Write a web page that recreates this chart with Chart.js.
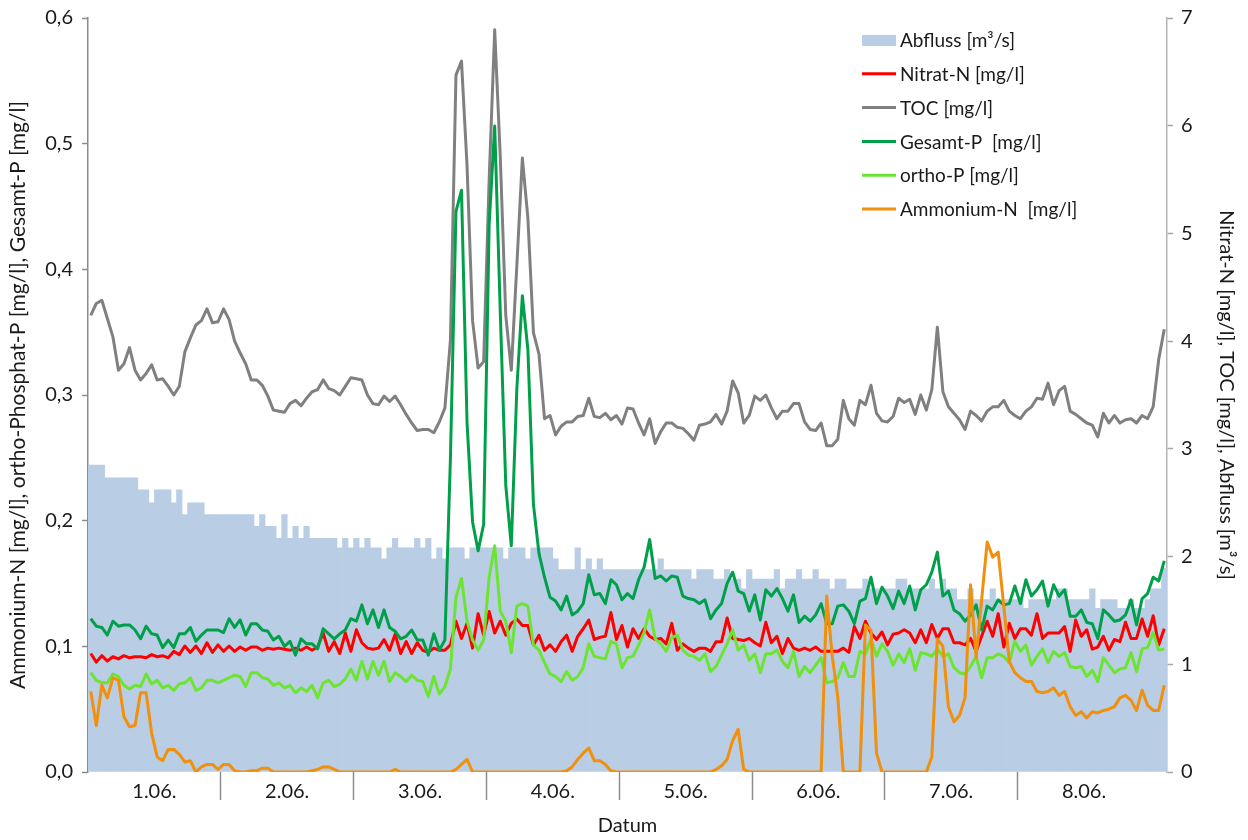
<!DOCTYPE html>
<html>
<head>
<meta charset="utf-8">
<title>Abfluss und Nährstoffe</title>
<script src="https://cdn.jsdelivr.net/npm/chart.js@4.4.1/dist/chart.umd.min.js"></script>
<style>
  html, body { margin: 0; padding: 0; background: #fff; }
  #wrap { width: 1248px; height: 840px; position: relative; }
</style>
</head>
<body>
<div id="wrap"><canvas id="chart"></canvas></div>
<script>
// Tage der Messkampagne, Stundenwerte (24 je Tag)
const days = ['1.06.', '2.06.', '3.06.', '4.06.', '5.06.', '6.06.', '7.06.', '8.06.', '9.06.'];
const hoursPerDay = 24;

// Abfluss [m3/s] (rechte Achse)
const abfluss = [
  2.85, 2.85, 2.85, 2.73, 2.73, 2.73, 2.73, 2.73, 2.73, 2.62, 2.62, 2.50, 2.62, 2.62, 2.62, 2.50, 2.62, 2.39, 2.50, 2.50, 2.50, 2.39, 2.39, 2.39,
  2.39, 2.39, 2.39, 2.39, 2.39, 2.39, 2.28, 2.39, 2.28, 2.28, 2.17, 2.39, 2.17, 2.28, 2.17, 2.28, 2.17, 2.17, 2.17, 2.17, 2.17, 2.08, 2.17, 2.08,
  2.17, 2.08, 2.17, 2.08, 2.08, 1.98, 2.08, 2.17, 2.08, 2.08, 2.08, 2.17, 2.08, 2.17, 1.98, 2.08, 1.98, 2.08, 2.08, 2.08, 1.98, 2.08, 2.08, 2.08,
  2.08, 2.08, 2.08, 1.98, 2.08, 2.08, 2.08, 1.98, 2.08, 2.08, 2.08, 2.08, 1.98, 1.88, 1.88, 1.88, 2.08, 1.88, 1.98, 1.88, 1.98, 1.88, 1.88, 1.88,
  1.88, 1.88, 1.88, 1.88, 1.88, 1.88, 1.88, 1.98, 1.88, 1.88, 1.88, 1.88, 1.88, 1.79, 1.88, 1.88, 1.88, 1.79, 1.79, 1.88, 1.79, 1.79, 1.70, 1.88,
  1.79, 1.79, 1.79, 1.79, 1.88, 1.70, 1.79, 1.79, 1.88, 1.79, 1.79, 1.88, 1.79, 1.79, 1.70, 1.79, 1.79, 1.70, 1.70, 1.70, 1.79, 1.70, 1.70, 1.70,
  1.70, 1.70, 1.79, 1.79, 1.70, 1.70, 1.70, 1.70, 1.79, 1.70, 1.79, 1.70, 1.70, 1.60, 1.60, 1.70, 1.60, 1.60, 1.60, 1.70, 1.60, 1.60, 1.60, 1.60,
  1.60, 1.52, 1.60, 1.60, 1.60, 1.60, 1.60, 1.70, 1.70, 1.60, 1.60, 1.60, 1.60, 1.70, 1.52, 1.60, 1.60, 1.60, 1.52, 1.52, 1.60, 1.52, 1.52, 1.60,
  1.70, 1.70, 1.89
];

// Nitrat-N [mg/l] (rechte Achse)
const nitratN = [
  1.10, 1.02, 1.08, 1.03, 1.07, 1.05, 1.08, 1.06, 1.07, 1.07, 1.06, 1.09, 1.07, 1.08, 1.06, 1.12, 1.09, 1.17, 1.11, 1.17, 1.10, 1.20, 1.11, 1.18,
  1.12, 1.17, 1.12, 1.16, 1.13, 1.16, 1.16, 1.13, 1.15, 1.14, 1.15, 1.14, 1.13, 1.15, 1.13, 1.16, 1.13, 1.16, 1.29, 1.12, 1.21, 1.10, 1.29, 1.12,
  1.32, 1.20, 1.15, 1.14, 1.15, 1.23, 1.13, 1.28, 1.10, 1.21, 1.10, 1.20, 1.13, 1.11, 1.15, 1.13, 1.13, 1.18, 1.40, 1.24, 1.38, 1.15, 1.47, 1.27,
  1.49, 1.29, 1.40, 1.27, 1.38, 1.42, 1.36, 1.36, 1.18, 1.27, 1.13, 1.18, 1.12, 1.21, 1.27, 1.12, 1.26, 1.33, 1.41, 1.23, 1.25, 1.26, 1.48, 1.23,
  1.36, 1.16, 1.33, 1.24, 1.33, 1.26, 1.23, 1.24, 1.19, 1.38, 1.13, 1.19, 1.15, 1.12, 1.15, 1.15, 1.12, 1.21, 1.21, 1.43, 1.24, 1.23, 1.22, 1.24,
  1.20, 1.17, 1.39, 1.20, 1.26, 1.10, 1.24, 1.15, 1.13, 1.15, 1.13, 1.16, 1.12, 1.12, 1.12, 1.12, 1.15, 1.11, 1.35, 1.24, 1.40, 1.29, 1.23, 1.30,
  1.18, 1.28, 1.29, 1.32, 1.29, 1.20, 1.32, 1.20, 1.37, 1.24, 1.33, 1.33, 1.20, 1.20, 1.18, 1.24, 1.12, 1.26, 1.40, 1.26, 1.47, 1.16, 1.38, 1.24,
  1.33, 1.33, 1.27, 1.47, 1.24, 1.29, 1.29, 1.29, 1.35, 1.12, 1.41, 1.26, 1.32, 1.14, 1.16, 1.26, 1.13, 1.23, 1.21, 1.39, 1.24, 1.24, 1.42, 1.26,
  1.45, 1.18, 1.33
];

// TOC [mg/l] (rechte Achse)
const toc = [
  4.24, 4.35, 4.38, 4.21, 4.04, 3.73, 3.79, 3.94, 3.73, 3.64, 3.70, 3.78, 3.64, 3.65, 3.58, 3.50, 3.58, 3.90, 4.03, 4.15, 4.19, 4.30, 4.17, 4.18,
  4.30, 4.20, 4.00, 3.89, 3.79, 3.64, 3.64, 3.59, 3.49, 3.36, 3.35, 3.34, 3.42, 3.45, 3.40, 3.47, 3.53, 3.55, 3.64, 3.56, 3.54, 3.50, 3.58, 3.66,
  3.65, 3.64, 3.50, 3.42, 3.41, 3.49, 3.44, 3.49, 3.41, 3.32, 3.24, 3.17, 3.18, 3.18, 3.15, 3.25, 3.38, 4.01, 6.47, 6.60, 5.63, 4.19, 3.75, 3.81,
  5.50, 6.89, 5.72, 4.24, 3.73, 4.70, 5.70, 5.14, 4.08, 3.88, 3.28, 3.31, 3.13, 3.21, 3.25, 3.25, 3.30, 3.31, 3.47, 3.30, 3.29, 3.33, 3.27, 3.31,
  3.23, 3.38, 3.37, 3.24, 3.13, 3.28, 3.05, 3.16, 3.24, 3.24, 3.20, 3.19, 3.14, 3.08, 3.22, 3.23, 3.25, 3.32, 3.23, 3.35, 3.63, 3.52, 3.24, 3.31,
  3.49, 3.45, 3.50, 3.38, 3.28, 3.35, 3.35, 3.42, 3.42, 3.25, 3.18, 3.17, 3.24, 3.03, 3.03, 3.09, 3.45, 3.28, 3.22, 3.45, 3.41, 3.59, 3.33, 3.26,
  3.25, 3.30, 3.47, 3.43, 3.46, 3.32, 3.50, 3.36, 3.55, 4.13, 3.53, 3.39, 3.33, 3.27, 3.18, 3.35, 3.31, 3.26, 3.35, 3.39, 3.39, 3.45, 3.35, 3.31,
  3.28, 3.35, 3.39, 3.47, 3.46, 3.61, 3.41, 3.54, 3.58, 3.35, 3.32, 3.28, 3.24, 3.22, 3.11, 3.33, 3.24, 3.31, 3.24, 3.27, 3.28, 3.24, 3.31, 3.28,
  3.39, 3.83, 4.11
];

// Gesamt-P [mg/l] (linke Achse)
const gesamtP = [
  0.122, 0.116, 0.115, 0.109, 0.120, 0.116, 0.117, 0.117, 0.113, 0.106, 0.116, 0.110, 0.109, 0.099, 0.105, 0.099, 0.110, 0.110, 0.115, 0.104, 0.109, 0.113, 0.113, 0.113,
  0.111, 0.122, 0.115, 0.121, 0.109, 0.118, 0.118, 0.113, 0.112, 0.105, 0.108, 0.100, 0.104, 0.093, 0.106, 0.102, 0.102, 0.098, 0.114, 0.110, 0.106, 0.110, 0.113, 0.122,
  0.120, 0.133, 0.118, 0.129, 0.115, 0.129, 0.115, 0.112, 0.106, 0.108, 0.113, 0.105, 0.105, 0.093, 0.110, 0.097, 0.105, 0.250, 0.446, 0.463, 0.278, 0.199, 0.176, 0.197,
  0.436, 0.514, 0.367, 0.228, 0.180, 0.305, 0.379, 0.336, 0.213, 0.174, 0.155, 0.139, 0.136, 0.129, 0.140, 0.125, 0.128, 0.134, 0.157, 0.141, 0.142, 0.134, 0.153, 0.149,
  0.137, 0.142, 0.138, 0.153, 0.163, 0.185, 0.154, 0.156, 0.152, 0.156, 0.155, 0.140, 0.138, 0.137, 0.134, 0.137, 0.122, 0.129, 0.134, 0.150, 0.159, 0.144, 0.142, 0.128,
  0.141, 0.121, 0.145, 0.140, 0.146, 0.138, 0.128, 0.141, 0.119, 0.124, 0.120, 0.125, 0.134, 0.118, 0.118, 0.132, 0.133, 0.128, 0.118, 0.136, 0.138, 0.155, 0.134, 0.147,
  0.140, 0.130, 0.144, 0.134, 0.148, 0.129, 0.145, 0.149, 0.159, 0.175, 0.140, 0.144, 0.129, 0.126, 0.120, 0.125, 0.133, 0.113, 0.132, 0.129, 0.137, 0.133, 0.134, 0.148,
  0.134, 0.153, 0.140, 0.145, 0.152, 0.132, 0.149, 0.140, 0.145, 0.124, 0.124, 0.129, 0.119, 0.118, 0.106, 0.129, 0.125, 0.120, 0.121, 0.125, 0.137, 0.117, 0.138, 0.142,
  0.155, 0.152, 0.168
];

// ortho-P [mg/l] (linke Achse)
const orthoP = [
  0.079, 0.073, 0.071, 0.071, 0.078, 0.076, 0.069, 0.066, 0.069, 0.068, 0.078, 0.070, 0.073, 0.067, 0.069, 0.065, 0.070, 0.071, 0.075, 0.065, 0.067, 0.073, 0.073, 0.071,
  0.073, 0.075, 0.077, 0.076, 0.068, 0.079, 0.079, 0.075, 0.074, 0.069, 0.071, 0.067, 0.069, 0.063, 0.067, 0.064, 0.069, 0.059, 0.071, 0.073, 0.068, 0.070, 0.074, 0.082,
  0.073, 0.088, 0.074, 0.088, 0.077, 0.088, 0.072, 0.079, 0.076, 0.072, 0.077, 0.073, 0.072, 0.060, 0.076, 0.062, 0.068, 0.082, 0.139, 0.154, 0.120, 0.105, 0.097, 0.105,
  0.155, 0.180, 0.128, 0.120, 0.095, 0.132, 0.134, 0.132, 0.101, 0.097, 0.087, 0.078, 0.076, 0.072, 0.080, 0.073, 0.076, 0.083, 0.102, 0.092, 0.091, 0.090, 0.104, 0.102,
  0.083, 0.091, 0.092, 0.101, 0.111, 0.129, 0.106, 0.102, 0.096, 0.107, 0.109, 0.097, 0.093, 0.092, 0.089, 0.094, 0.080, 0.084, 0.093, 0.102, 0.113, 0.097, 0.101, 0.089,
  0.094, 0.079, 0.094, 0.094, 0.097, 0.088, 0.083, 0.096, 0.076, 0.084, 0.079, 0.085, 0.091, 0.071, 0.072, 0.075, 0.087, 0.076, 0.076, 0.096, 0.094, 0.106, 0.092, 0.102,
  0.096, 0.085, 0.094, 0.087, 0.098, 0.081, 0.095, 0.094, 0.092, 0.098, 0.092, 0.094, 0.083, 0.079, 0.078, 0.084, 0.092, 0.075, 0.091, 0.091, 0.094, 0.092, 0.087, 0.104,
  0.096, 0.101, 0.085, 0.092, 0.098, 0.087, 0.096, 0.092, 0.095, 0.084, 0.083, 0.084, 0.076, 0.081, 0.072, 0.091, 0.085, 0.079, 0.082, 0.083, 0.095, 0.080, 0.098, 0.099,
  0.111, 0.097, 0.098
];

// Ammonium-N [mg/l] (linke Achse)
const ammoniumN = [
  0.064, 0.037, 0.069, 0.059, 0.075, 0.073, 0.044, 0.036, 0.037, 0.063, 0.063, 0.031, 0.012, 0.009, 0.018, 0.018, 0.014, 0.008, 0.009, 0.000, 0.004, 0.006, 0.006, 0.002,
  0.006, 0.006, 0.001, 0.000, 0.000, 0.001, 0.001, 0.003, 0.003, 0.000, 0.000, 0.000, 0.000, 0.000, 0.000, 0.000, 0.001, 0.002, 0.004, 0.004, 0.002, 0.000, 0.000, 0.000,
  0.000, 0.000, 0.000, 0.000, 0.000, 0.000, 0.000, 0.002, 0.000, 0.000, 0.000, 0.000, 0.000, 0.000, 0.000, 0.000, 0.000, 0.000, 0.002, 0.006, 0.010, 0.000, 0.000, 0.000,
  0.000, 0.000, 0.000, 0.000, 0.000, 0.000, 0.000, 0.000, 0.000, 0.000, 0.000, 0.000, 0.000, 0.000, 0.001, 0.004, 0.010, 0.015, 0.019, 0.009, 0.009, 0.006, 0.001, 0.000,
  0.000, 0.000, 0.000, 0.000, 0.000, 0.000, 0.000, 0.000, 0.000, 0.000, 0.000, 0.000, 0.000, 0.000, 0.000, 0.000, 0.000, 0.002, 0.005, 0.010, 0.025, 0.034, 0.002, 0.000,
  0.000, 0.000, 0.000, 0.000, 0.000, 0.000, 0.000, 0.000, 0.000, 0.000, 0.000, 0.000, 0.000, 0.140, 0.092, 0.060, 0.000, 0.000, 0.000, 0.000, 0.117, 0.113, 0.015, 0.000,
  0.000, 0.000, 0.000, 0.000, 0.000, 0.000, 0.000, 0.000, 0.012, 0.106, 0.100, 0.052, 0.040, 0.045, 0.059, 0.149, 0.091, 0.137, 0.183, 0.171, 0.175, 0.132, 0.088, 0.079,
  0.075, 0.072, 0.072, 0.064, 0.063, 0.064, 0.067, 0.061, 0.064, 0.052, 0.045, 0.048, 0.043, 0.048, 0.047, 0.049, 0.050, 0.052, 0.059, 0.061, 0.057, 0.049, 0.065, 0.053,
  0.049, 0.049, 0.069
];

// Achsenbereiche
const leftMax = 0.6, leftStep = 0.1;
const rightMax = 7, rightStep = 1;

// Kategorien: Tag + Stunde
const labels = abfluss.map((_, i) => days[Math.floor(i / hoursPerDay)] + ' ' + (i % hoursPerDay) + ':00');

const axisGray = '#8c8c8c';
const textColor = '#1a1a1a';
const fontFamily = 'Lato, "Open Sans", sans-serif';
Chart.defaults.font.family = fontFamily;
Chart.defaults.color = textColor;

// Legende innerhalb der Zeichenfläche oben rechts
const legendInPlot = {
  id: 'legendInPlot',
  afterDraw(chart) {
    const { ctx, chartArea } = chart;
    const x0 = chartArea.right - 305;
    const y0 = chartArea.top + 22;
    const rowGap = 33.8;
    ctx.save();
    ctx.font = '19px ' + fontFamily;
    ctx.textBaseline = 'middle';
    ctx.textAlign = 'left';
    chart.data.datasets.forEach((ds, k) => {
      const y = y0 + k * rowGap;
      if (ds.type === 'bar') {
        ctx.fillStyle = ds.backgroundColor;
        ctx.fillRect(x0, y - 5, 34, 11);
      } else {
        ctx.strokeStyle = ds.borderColor;
        ctx.lineWidth = 3;
        ctx.beginPath();
        ctx.moveTo(x0, y);
        ctx.lineTo(x0 + 34, y);
        ctx.stroke();
      }
      ctx.fillStyle = textColor;
      ctx.fillText(ds.label, x0 + 38, y + 1);
    });
    ctx.restore();
  }
};

const lineDefaults = { type: 'line', borderWidth: 3, pointRadius: 0, tension: 0, borderJoinStyle: 'round', fill: false };

new Chart(document.getElementById('chart'), {
  data: {
    labels: labels,
    datasets: [
      { type: 'bar', label: 'Abfluss [m³/s]', data: abfluss, yAxisID: 'y1', backgroundColor: '#B9CDE5',
        borderWidth: 0, barPercentage: 1, categoryPercentage: 1, order: 10 },
      { ...lineDefaults, label: 'Nitrat-N [mg/l]', data: nitratN, yAxisID: 'y1', borderColor: '#FF0000', order: 4 },
      { ...lineDefaults, label: 'TOC [mg/l]', data: toc, yAxisID: 'y1', borderColor: '#808080', order: 5 },
      { ...lineDefaults, label: 'Gesamt-P  [mg/l]', data: gesamtP, yAxisID: 'y', borderColor: '#00A04A', order: 3 },
      { ...lineDefaults, label: 'ortho-P [mg/l]', data: orthoP, yAxisID: 'y', borderColor: '#6CE432', order: 2 },
      { ...lineDefaults, label: 'Ammonium-N  [mg/l]', data: ammoniumN, yAxisID: 'y', borderColor: '#F0900C', order: 1 }
    ]
  },
  options: {
    responsive: true,
    maintainAspectRatio: false,
    animation: false,
    layout: { padding: { top: 18, right: 0, bottom: 0, left: 0 } },
    plugins: { legend: { display: false }, tooltip: { enabled: false } },
    scales: {
      x: {
        type: 'category',
        offset: true,
        grid: {
          offset: true,
          drawOnChartArea: false,
          tickLength: 28,
          tickWidth: 1.5,
          tickColor: ctx => (ctx.index % hoursPerDay === 0 && ctx.index > 0 && ctx.index < 8 * hoursPerDay) ? axisGray : 'rgba(0,0,0,0)'
        },
        border: { display: false },
        ticks: {
          autoSkip: false,
          maxRotation: 0,
          minRotation: 0,
          padding: -20,
          labelOffset: -1079 / labels.length / 2,
          font: { size: 20 },
          callback: (v, i) => (i % hoursPerDay === hoursPerDay / 2 && i < 8 * hoursPerDay) ? days[Math.floor(i / hoursPerDay)] : ''
        },
        title: { display: true, text: 'Datum', font: { size: 20 }, padding: { top: 0, bottom: 2 } },
        afterFit: s => { s.height = 68; s.paddingLeft = 0; s.paddingRight = 0; }
      },
      y: {
        position: 'left',
        min: 0,
        max: leftMax,
        grid: { drawOnChartArea: false, tickLength: 6, tickWidth: 1.5, tickColor: axisGray },
        border: { display: true, color: axisGray, width: 1.5 },
        ticks: {
          stepSize: leftStep,
          padding: 9,
          font: { size: 20 },
          callback: v => v.toFixed(1).replace('.', ',')
        },
        title: { display: true, text: 'Ammonium-N [mg/l], ortho-Phosphat-P [mg/l], Gesamt-P [mg/l]', font: { size: 21 }, padding: { top: 6, bottom: 0 } },
        afterFit: s => { s.width = 88; s.paddingTop = 0; s.paddingBottom = 0; }
      },
      y1: {
        position: 'right',
        min: 0,
        max: rightMax,
        grid: { drawOnChartArea: false, tickLength: 6, tickWidth: 1.5, tickColor: '#a6a6a6' },
        border: { display: true, color: '#b3b3b3', width: 1.5 },
        ticks: { stepSize: rightStep, padding: 8, font: { size: 20 } },
        title: { display: true, text: 'Nitrat-N [mg/l], TOC [mg/l], Abfluss [m³/s]', font: { size: 20 }, padding: { top: 10, bottom: 0 } },
        afterFit: s => { s.width = 81; s.paddingTop = 0; s.paddingBottom = 0; }
      }
    }
  },
  plugins: [legendInPlot]
});
</script>
</body>
</html>
